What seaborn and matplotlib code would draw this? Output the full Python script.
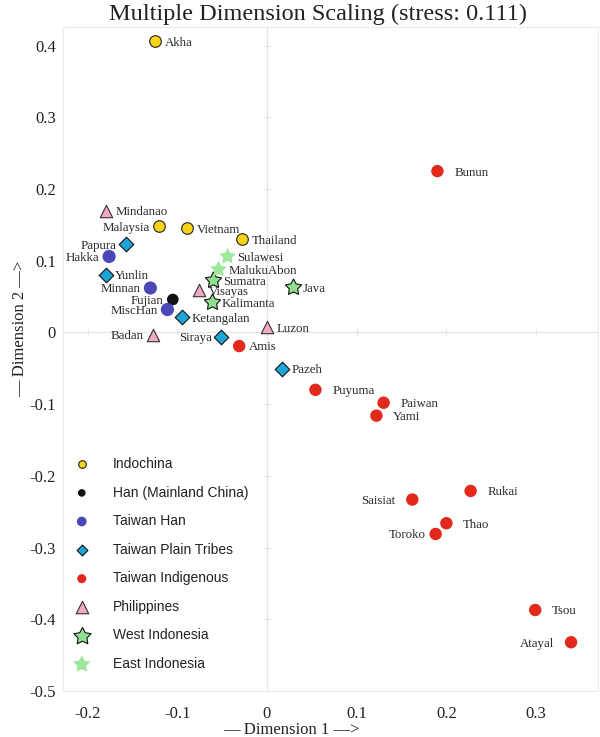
import numpy as np
import pandas as pd
import matplotlib
matplotlib.use("Agg")
import matplotlib.pyplot as plt
from matplotlib.path import Path
import seaborn as sns

# ---------------- data ----------------
names = ["Akha", "Malaysia", "Vietnam", "Thailand",
         "Fujian",
         "Hakka", "Minnan", "MiscHan",
         "Papura", "Yunlin", "Ketangalan", "Siraya", "Pazeh",
         "Bunun", "Amis", "Puyuma", "Paiwan", "Yami", "Saisiat", "Rukai",
         "Thao", "Toroko", "Tsou", "Atayal",
         "Mindanao", "Visayas", "Luzon", "Badan",
         "Sumatra", "Java", "Kalimanta",
         "Sulawesi", "MalukuAbon"]
dim1 = [-0.125, -0.120, -0.089, -0.028,
        -0.105,
        -0.176, -0.130, -0.111,
        -0.157, -0.180, -0.095, -0.051, 0.017,
        0.190, -0.031, 0.054, 0.130, 0.122, 0.162, 0.227,
        0.200, 0.188, 0.299, 0.339,
        -0.180, -0.076, 0.000, -0.127,
        -0.060, 0.029, -0.061,
        -0.044, -0.054]
dim2 = [0.406, 0.148, 0.145, 0.130,
        0.046,
        0.106, 0.062, 0.032,
        0.123, 0.080, 0.021, -0.006, -0.051,
        0.225, -0.019, -0.080, -0.098, -0.116, -0.233, -0.221,
        -0.266, -0.281, -0.387, -0.432,
        0.170, 0.059, 0.007, -0.003,
        0.073, 0.063, 0.042,
        0.106, 0.088]
groups = (["Indochina"] * 4 + ["Han (Mainland China)"] * 1 + ["Taiwan Han"] * 3 +
          ["Taiwan Plain Tribes"] * 5 + ["Taiwan Indigenous"] * 11 +
          ["Philippines"] * 4 + ["West Indonesia"] * 3 + ["East Indonesia"] * 2)
group_order = ["Indochina", "Han (Mainland China)", "Taiwan Han", "Taiwan Plain Tribes",
               "Taiwan Indigenous", "Philippines", "West Indonesia", "East Indonesia"]
x_ticks = [-0.2, -0.1, 0, 0.1, 0.2, 0.3]
x_tick_labels = ["-0.2", "-0.1", "0", "0.1", "0.2", "0.3"]
y_ticks = [0.4, 0.3, 0.2, 0.1, 0, -0.1, -0.2, -0.3, -0.4, -0.5]
y_tick_labels = ["0.4", "0.3", "0.2", "0.1", "0", "-0.1", "-0.2", "-0.3", "-0.4", "-0.5"]

df = pd.DataFrame({"name": names, "d1": dim1, "d2": dim2, "group": groups})

# ---------------- styles ----------------
def star_path(inner=0.52):
    ang = np.pi / 2 + np.arange(10) * np.pi / 5
    r = np.where(np.arange(10) % 2 == 0, 1.0, inner)
    v = np.column_stack([r * np.cos(ang), r * np.sin(ang)])
    v = np.vstack([v, v[:1]])
    codes = [Path.MOVETO] + [Path.LINETO] * 9 + [Path.CLOSEPOLY]
    return Path(v, codes)

STAR = star_path()
style = {
    "Indochina":            dict(color="#f7d417", marker="o", s=70, ec="#222222", lw=0.8),
    "Han (Mainland China)": dict(color="#111111", marker="o", s=70, ec="none", lw=0),
    "Taiwan Han":           dict(color="#4a47b6", marker="o", s=90, ec="none", lw=0),
    "Taiwan Plain Tribes":  dict(color="#1ba6d6", marker="D", s=55, ec="#111111", lw=0.8),
    "Taiwan Indigenous":    dict(color="#e2291c", marker="o", s=80, ec="none", lw=0),
    "Philippines":          dict(color="#f4a8c6", marker="^", s=80, ec="#333333", lw=0.8),
    "West Indonesia":       dict(color="#8fe08f", marker=STAR, s=150, ec="#111111", lw=0.8),
    "East Indonesia":       dict(color="#9de89b", marker=STAR, s=150, ec="none", lw=0),
}
legend_sizes = {"Indochina": 5.5, "Han (Mainland China)": 5.5, "Taiwan Han": 7,
                "Taiwan Plain Tribes": 5.5, "Taiwan Indigenous": 6.5, "Philippines": 9,
                "West Indonesia": 13, "East Indonesia": 13}
left_labels = {"Malaysia", "Papura", "Hakka", "Minnan", "Fujian", "MiscHan", "Badan",
               "Siraya", "Saisiat", "Toroko", "Atayal"}

sns.set_theme(style="white")
plt.rcParams["font.family"] = ["Liberation Serif", "DejaVu Serif"]

fig = plt.figure(figsize=(6.0, 7.37), dpi=100)
ax = fig.add_axes([63 / 600, 1 - 691 / 737, 535 / 600, 664 / 737])

for g in group_order:
    st = style[g]
    sub = df[df["group"] == g]
    sns.scatterplot(data=sub, x="d1", y="d2", ax=ax, color=st["color"], marker=st["marker"],
                    s=st["s"], edgecolor=st["ec"], linewidth=st["lw"], label=g, zorder=3)

# point labels
for _, r in df.iterrows():
    far = r["group"] == "Taiwan Indigenous" and r["name"] not in ("Amis", "Toroko")
    gap = 12 if far else 7
    if r["name"] in left_labels:
        ax.annotate(r["name"], (r["d1"], r["d2"]), xytext=(-gap, -1.0), textcoords="offset points",
                    ha="right", va="center", fontsize=9.3, color="#2a2a2a", zorder=4)
    else:
        ax.annotate(r["name"], (r["d1"], r["d2"]), xytext=(gap, -1.0), textcoords="offset points",
                    ha="left", va="center", fontsize=9.3, color="#2a2a2a", zorder=4)

ax.set_xlim(-0.2274, 0.369)
ax.set_ylim(-0.5, 0.426)

# zero lines with tiny ticks
ax.axhline(0, color="#e4e4e4", lw=0.9, zorder=1)
ax.axvline(0, color="#e4e4e4", lw=0.9, zorder=1)
ax.plot([t for t in x_ticks if t != 0], [0] * 5, ls="none", marker="|", ms=5,
        color="#e4e4e4", zorder=1)
ax.plot([0] * 9, [t for t in y_ticks if t != 0], ls="none", marker="_", ms=5,
        color="#e4e4e4", zorder=1)

ax.set_xticks(x_ticks, x_tick_labels)
ax.set_yticks(y_ticks, y_tick_labels)
ax.tick_params(axis="both", length=0, labelsize=12, colors="#222222")
ax.tick_params(axis="x", pad=11)
ax.tick_params(axis="y", pad=5)
for sp in ax.spines.values():
    sp.set_color("#ececec")
    sp.set_linewidth(0.8)
ax.grid(False)

ax.set_xlabel("— Dimension 1 —>", fontsize=12, color="#222222")
ax.set_ylabel("— Dimension 2 —>", fontsize=12, color="#222222")
ax.xaxis.set_label_coords(0.426, -0.046)
ax.yaxis.set_label_coords(-0.066, 0.545)

fig.text(318 / 600, 1 - 14 / 737, "Multiple Dimension Scaling (stress: 0.111)",
         ha="center", va="center", fontsize=17.5, color="#222222")

# legend
handles, labels = ax.get_legend_handles_labels()
leg = ax.legend(handles, labels, loc="upper left", bbox_to_anchor=(0.0, 0.365), frameon=False,
                prop={"family": ["Liberation Sans", "DejaVu Sans"], "size": 10},
                labelspacing=1.05, handletextpad=1.5, borderaxespad=0.0, handlelength=1.5,
                borderpad=0.6)
for h, lab in zip(leg.legend_handles, labels):
    h.set_sizes([legend_sizes[lab] ** 2])
for t in leg.get_texts():
    t.set_color("#222222")

fig.savefig("out.png", dpi=100)
